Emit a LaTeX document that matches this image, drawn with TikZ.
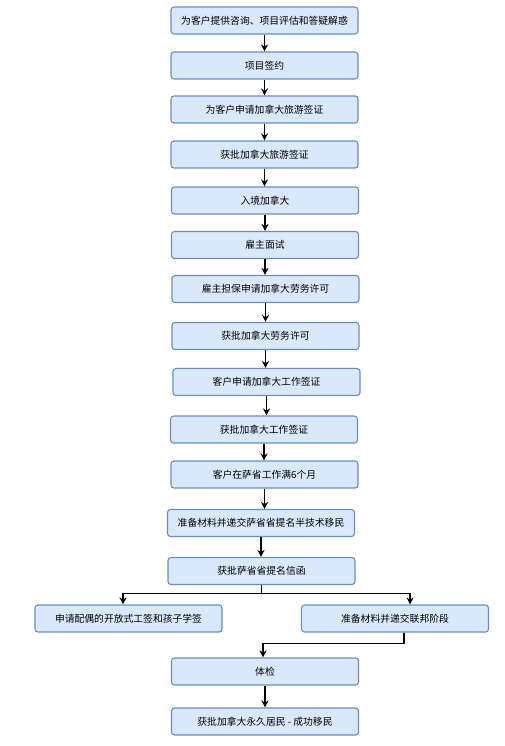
\documentclass[tikz,border=0pt]{standalone}
\usepackage{fontspec}
\newfontfamily\cjk{Noto Sans CJK SC}
\usetikzlibrary{arrows.meta}
\definecolor{boxfill}{HTML}{DAE8FC}
\definecolor{boxline}{HTML}{6C8EBF}
\begin{document}
\begin{tikzpicture}[x=1pt, y=-1pt,
    stepbox/.style={draw=boxline, fill=boxfill, line width=1.1pt, rounded corners=3pt,
                    minimum width=187pt, minimum height=27pt, inner sep=0pt,
                    font=\cjk\fontsize{9.8}{12}\selectfont},
    arr/.style={line width=1.2pt, -{Stealth[length=7pt,width=7pt]}}]
      \useasboundingbox (0, 0) rectangle (505, 746);
      \node[stepbox] (consult)   at (264.5, 20.5)  {为客户提供咨询、项目评估和答疑解惑};
      \node[stepbox] (sign)      at (264.5, 65.5)  {项目签约};
      \node[stepbox] (tvapply)   at (264.5, 109.5) {为客户申请加拿大旅游签证};
      \node[stepbox] (tvok)      at (264.5, 154.5) {获批加拿大旅游签证};
      \node[stepbox] (entry)     at (265, 200.5)   {入境加拿大};
      \node[stepbox] (interview) at (265, 245)     {雇主面试};
      \node[stepbox] (lmia)      at (265.5, 289)   {雇主担保申请加拿大劳务许可};
      \node[stepbox] (lmiaok)    at (265.5, 336)   {获批加拿大劳务许可};
      \node[stepbox] (wpapply)   at (266.5, 382)   {客户申请加拿大工作签证};
      \node[stepbox] (wpok)      at (264, 429.5)   {获批加拿大工作签证};
      \node[stepbox] (work)      at (264.5, 474.5) {客户在萨省工作满6个月};
      \node[stepbox] (sinp)      at (261, 523)     {准备材料并递交萨省省提名半技术移民};
      \node[stepbox] (sinpok)    at (261.5, 571)   {获批萨省省提名信函};
      \node[stepbox] (family)    at (128.5, 618.5) {申请配偶的开放式工签和孩子学签};
      \node[stepbox] (federal)   at (395, 618.5)   {准备材料并递交联邦阶段};
      \node[stepbox] (medical)   at (265, 671.5)   {体检};
      \node[stepbox] (pr)        at (265, 721.5)   {获批加拿大永久居民 - 成功移民};
      % main chain
      \draw[arr] (consult.south) -- (consult.south |- sign.north);
      \draw[arr] (sign.south) -- (sign.south |- tvapply.north);
      \draw[arr] (tvapply.south) -- (tvapply.south |- tvok.north);
      \draw[arr] (tvok.south) -- (tvok.south |- entry.north);
      \draw[arr] (entry.south) -- (entry.south |- interview.north);
      \draw[arr] (interview.south) -- (interview.south |- lmia.north);
      \draw[arr] (lmia.south) -- (lmia.south |- lmiaok.north);
      \draw[arr] (lmiaok.south) -- (lmiaok.south |- wpapply.north);
      \draw[arr] (wpapply.south) -- (wpapply.south |- wpok.north);
      \draw[arr] (wpok.south) -- (wpok.south |- work.north);
      \draw[arr] (work.south) -- (work.south |- sinp.north);
      \draw[arr] (sinp.south) -- (sinp.south |- sinpok.north);
      % branch
      \draw[arr] (sinpok.south) -- ++(0, 8.5) -| ([xshift=-5.5pt]family.north);
      \draw[arr] (sinpok.south) -- ++(0, 8.5) -| ([xshift=15pt]federal.north);
      \draw[arr] ([xshift=9pt]federal.south) -- ++(0, 11) -| ([xshift=-2pt]medical.north);
      \draw[arr] (medical.south) -- (medical.south |- pr.north);
\end{tikzpicture}
\end{document}
